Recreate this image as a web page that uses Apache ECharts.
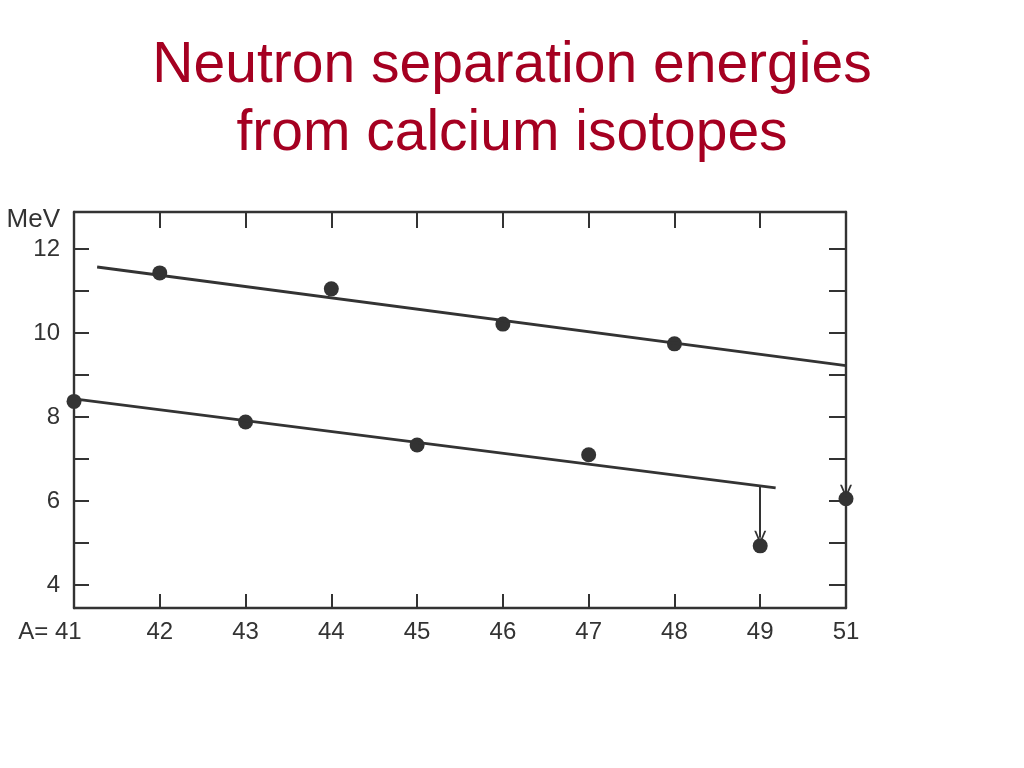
<!DOCTYPE html>
<html>
<head>
<meta charset="utf-8">
<script src="https://cdn.jsdelivr.net/npm/echarts@6/dist/echarts.min.js"></script>
<style>
html,body{margin:0;padding:0;background:#fff;}
#chart{width:1024px;height:768px;}
</style>
</head>
<body>
<div id="chart"></div>
<script>
// Tick labels along the mass-number axis (evenly spaced positions; note 50 is skipped)
const tickLabels = ['41', '42', '43', '44', '45', '46', '47', '48', '49', '51'];
const yTickValues = [4, 5, 6, 7, 8, 9, 10, 11, 12];
const yLabelValues = [4, 6, 8, 10, 12];

// Even-A isotopes (upper group): mass number, separation energy (MeV)
const evenA = [42, 44, 46, 48];
const evenSn = [11.43, 11.05, 10.21, 9.74];

// Odd-A isotopes (lower group)
const oddA = [41, 43, 45, 47, 49, 51];
const oddSn = [8.37, 7.88, 7.33, 7.10, 4.93, 6.05];

// Fitted straight lines: [axis position, MeV] endpoints
const evenFitPos = [0.27, 9.0];
const evenFitSn = [11.57, 9.22];
const oddFitPos = [0, 8.18];
const oddFitSn = [8.43, 6.31];

// Upper-limit arrows: A value, start MeV, end MeV
const arrowA = [49, 51];
const arrowFrom = [6.33, 6.85];
const arrowTo = [5.12, 6.22];

const pos = a => tickLabels.indexOf(String(a));
const ink = '#333333';
const font = '"Liberation Sans", Arial, sans-serif';

const chart = echarts.init(document.getElementById('chart'));
const vChevron = 'path://M0,12 L5,0 L10,12 L8.4,12 L5,3.8 L1.6,12 Z';

chart.setOption({
  animation: false,
  backgroundColor: '#ffffff',
  title: {
    text: 'Neutron separation energies\nfrom calcium isotopes',
    left: 'center',
    top: 27,
    textStyle: {
      color: '#A50021', fontSize: 57, lineHeight: 68,
      fontWeight: 'normal', fontFamily: font
    }
  },
  grid: { left: 74, right: 178, top: 212, bottom: 160 },
  xAxis: [
    {
      type: 'value', min: 0, max: 9, position: 'bottom',
      axisLine: { show: true, onZero: false, lineStyle: { color: ink, width: 2.4 } },
      axisTick: { show: true, inside: true, length: 14, customValues: [1,2,3,4,5,6,7,8], lineStyle: { color: ink, width: 2 } },
      axisLabel: {
        customValues: [0,1,2,3,4,5,6,7,8,9],
        margin: 12, color: ink, fontSize: 24, fontFamily: font,
        formatter: v => {
          const i = Math.round(v);
          return i === 0 ? '{first|A= ' + tickLabels[0] + '}' : tickLabels[i];
        },
        rich: { first: { fontSize: 24, fontFamily: font, color: ink, padding: [0, 48, 0, 0] } }
      },
      splitLine: { show: false }
    },
    {
      type: 'value', min: 0, max: 9, position: 'top',
      axisLine: { show: true, onZero: false, lineStyle: { color: ink, width: 2.4 } },
      axisTick: { show: true, inside: true, length: 16, customValues: [1,2,3,4,5,6,7,8], lineStyle: { color: ink, width: 2 } },
      axisLabel: { show: false },
      splitLine: { show: false }
    }
  ],
  yAxis: [
    {
      type: 'value', min: 3.45, max: 12.88, position: 'left',
      name: 'MeV', nameLocation: 'end', nameGap: -8,
      nameTextStyle: { color: ink, fontSize: 26, fontFamily: font, align: 'right', verticalAlign: 'middle', padding: [0, 14, 0, 0] },
      axisLine: { show: true, onZero: false, lineStyle: { color: ink, width: 2.4 } },
      axisTick: { show: true, inside: true, length: 15, customValues: yTickValues, lineStyle: { color: ink, width: 2 } },
      axisLabel: { customValues: yLabelValues, margin: 14, color: ink, fontSize: 24, fontFamily: font },
      splitLine: { show: false }
    },
    {
      type: 'value', min: 3.45, max: 12.88, position: 'right',
      axisLine: { show: true, onZero: false, lineStyle: { color: ink, width: 2.4 } },
      axisTick: { show: true, inside: true, length: 17, customValues: yTickValues, lineStyle: { color: ink, width: 2 } },
      axisLabel: { show: false },
      splitLine: { show: false }
    }
  ],
  series: [
    {
      type: 'line', name: 'even fit', silent: true, symbol: 'none',
      lineStyle: { color: ink, width: 2.8 },
      data: evenFitPos.map((p, i) => [p, evenFitSn[i]])
    },
    {
      type: 'line', name: 'odd fit', silent: true, symbol: 'none',
      lineStyle: { color: ink, width: 2.8 },
      data: oddFitPos.map((p, i) => [p, oddFitSn[i]]),
      markLine: {
        silent: true, animation: false,
        symbol: ['none', vChevron], symbolSize: [12, 14],
        label: { show: false },
        lineStyle: { color: ink, width: 2, type: 'solid' },
        data: arrowA.map((a, i) => [
          { coord: [pos(a), arrowFrom[i]] },
          { coord: [pos(a), arrowTo[i]] }
        ])
      }
    },
    {
      type: 'scatter', name: 'even A', symbolSize: 15,
      itemStyle: { color: ink, opacity: 1 },
      data: evenA.map((a, i) => [pos(a), evenSn[i]])
    },
    {
      type: 'scatter', name: 'odd A', symbolSize: 15,
      itemStyle: { color: ink, opacity: 1 },
      data: oddA.map((a, i) => [pos(a), oddSn[i]])
    }
  ]
});
</script>
</body>
</html>
